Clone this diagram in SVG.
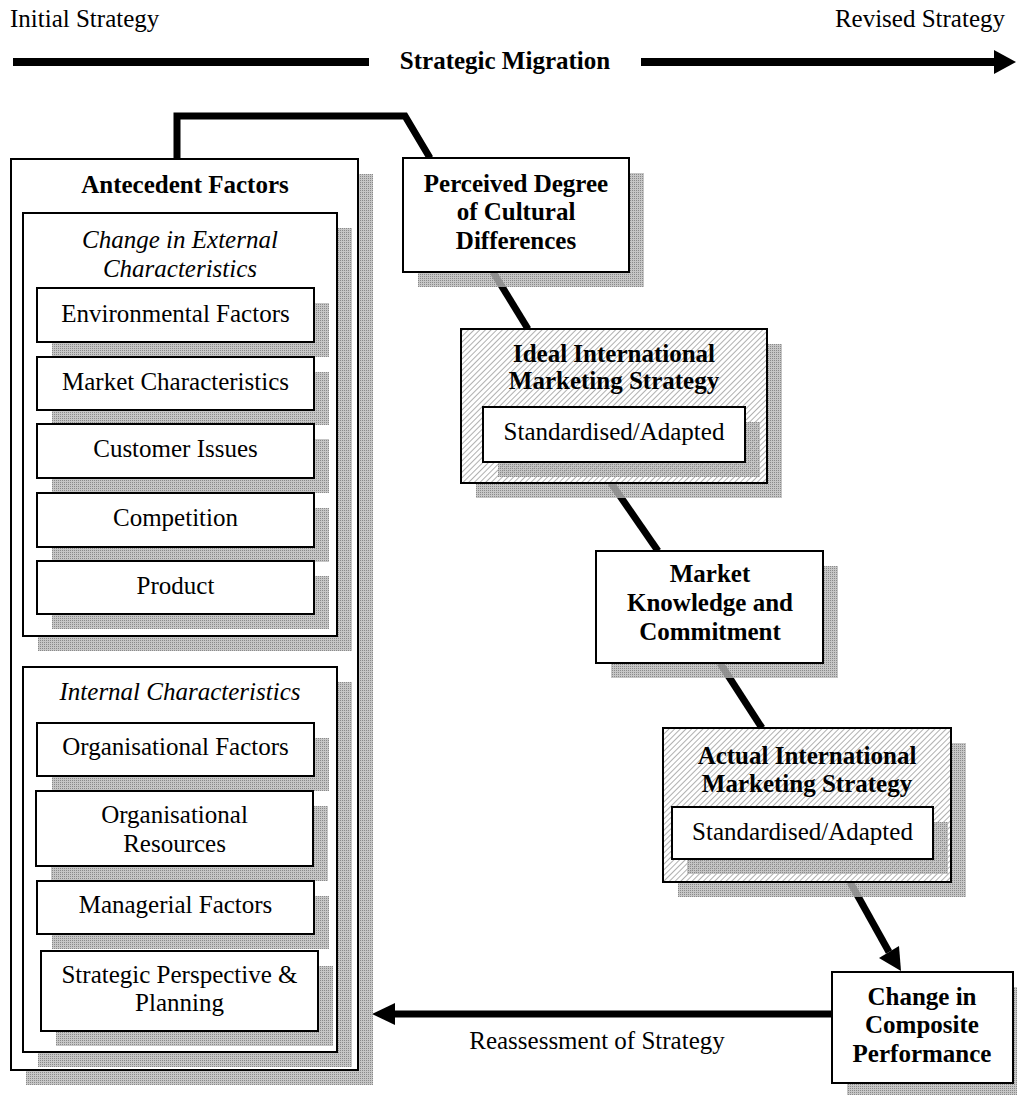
<svg xmlns="http://www.w3.org/2000/svg" width="1017" height="1095" viewBox="0 0 1017 1095">
  <defs>
    <!-- fine grey mesh used for drop shadows (lets lines beneath show through) -->
    <pattern id="mesh" width="2" height="2" patternUnits="userSpaceOnUse">
      <rect width="2" height="2" fill="#b8b8b8" fill-opacity="0.8"/>
      <rect width="1" height="1" fill="#8a8a8a"/>
    </pattern>
    <!-- light diagonal hatching for the strategy boxes -->
    <pattern id="hatch" width="4" height="4" patternUnits="userSpaceOnUse" patternTransform="rotate(45)">
      <rect width="4" height="4" fill="#ffffff"/>
      <line x1="0.5" y1="0" x2="0.5" y2="4" stroke="#b0b0b0" stroke-width="1"/>
    </pattern>
    <style>
      .box { fill: #ffffff; stroke: #000000; stroke-width: 2; }
      .hbox { fill: url(#hatch); stroke: #000000; stroke-width: 2; }
      .shadow { fill: url(#mesh); }
      .t { font-family: "Liberation Serif", "Times New Roman", serif; font-size: 25px; fill: #000000; text-anchor: middle; }
      .b { font-weight: bold; }
      .i { font-style: italic; }
      .link { fill: none; stroke: #000000; stroke-width: 7; stroke-linejoin: miter; }
      .head { fill: #000000; }
    </style>
  </defs>

  <rect width="1017" height="1095" fill="#ffffff"/>

  <!-- strategic migration timeline -->
  <g id="migration">
    <text class="t" x="10" y="27" style="text-anchor:start">Initial Strategy</text>
    <text class="t" x="1005" y="27" style="text-anchor:end">Revised Strategy</text>
    <line x1="13" y1="62" x2="369" y2="62" stroke="#000" stroke-width="8"/>
    <text class="t b" x="505" y="69">Strategic Migration</text>
    <line x1="641" y1="62" x2="996" y2="62" stroke="#000" stroke-width="8"/>
    <polygon class="head" points="994,50 1016,62 994,74"/>
  </g>

  <!-- connectors between the stages -->
  <g id="connectors">
    <path class="link" d="M177,160 V116 H405 L430,158"/>
    <line class="link" x1="493" y1="272" x2="528" y2="329"/>
    <line class="link" x1="611" y1="483" x2="658" y2="551"/>
    <line class="link" x1="720" y1="663" x2="762" y2="728"/>
    <line class="link" x1="850" y1="882" x2="889" y2="952"/>
    <polygon class="head" points="899,946 901,971 879,958"/>
    <line class="link" x1="832" y1="1014" x2="393" y2="1014" stroke-width="6"/>
    <polygon class="head" points="395,1003 372,1014 395,1025"/>
    <text class="t" x="597" y="1049">Reassessment of Strategy</text>
  </g>

  <!-- antecedent factors -->
  <g id="antecedent">
    <rect class="shadow" x="26" y="174" width="347" height="911"/>
    <rect class="box" x="11" y="159" width="347" height="911"/>
    <text class="t b" x="185" y="193">Antecedent Factors</text>

    <g id="external">
      <rect class="shadow" x="38" y="228" width="314" height="423"/>
      <rect class="box" x="23" y="213" width="314" height="423"/>
      <text class="t i" x="180" y="248">Change in External</text>
      <text class="t i" x="180" y="277">Characteristics</text>

      <g id="environmental">
        <rect class="shadow" x="52" y="303" width="277" height="54"/>
        <rect class="box" x="37" y="288" width="277" height="54"/>
        <text class="t" x="175.5" y="322">Environmental Factors</text>
      </g>
      <g id="market-characteristics">
        <rect class="shadow" x="52" y="372" width="277" height="53"/>
        <rect class="box" x="37" y="357" width="277" height="53"/>
        <text class="t" x="175.5" y="390">Market Characteristics</text>
      </g>
      <g id="customer">
        <rect class="shadow" x="52" y="439" width="277" height="54"/>
        <rect class="box" x="37" y="424" width="277" height="54"/>
        <text class="t" x="175.5" y="457">Customer Issues</text>
      </g>
      <g id="competition">
        <rect class="shadow" x="52" y="508" width="277" height="54"/>
        <rect class="box" x="37" y="493" width="277" height="54"/>
        <text class="t" x="175.5" y="526">Competition</text>
      </g>
      <g id="product">
        <rect class="shadow" x="52" y="576" width="277" height="53"/>
        <rect class="box" x="37" y="561" width="277" height="53"/>
        <text class="t" x="175.5" y="594">Product</text>
      </g>
    </g>

    <g id="internal">
      <rect class="shadow" x="38" y="682" width="314" height="385"/>
      <rect class="box" x="23" y="667" width="314" height="385"/>
      <text class="t i" x="180" y="700">Internal Characteristics</text>

      <g id="org-factors">
        <rect class="shadow" x="52" y="738" width="277" height="53"/>
        <rect class="box" x="37" y="723" width="277" height="53"/>
        <text class="t" x="175.5" y="755">Organisational Factors</text>
      </g>
      <g id="org-resources">
        <rect class="shadow" x="51" y="806" width="277" height="75"/>
        <rect class="box" x="36" y="791" width="277" height="75"/>
        <text class="t" x="174.5" y="823">Organisational</text>
        <text class="t" x="174.5" y="852">Resources</text>
      </g>
      <g id="managerial">
        <rect class="shadow" x="52" y="896" width="277" height="53"/>
        <rect class="box" x="37" y="881" width="277" height="53"/>
        <text class="t" x="175.5" y="913">Managerial Factors</text>
      </g>
      <g id="strategic-perspective">
        <rect class="shadow" x="56" y="966" width="277" height="80"/>
        <rect class="box" x="41" y="951" width="277" height="80"/>
        <text class="t" x="179.5" y="983">Strategic Perspective &amp;</text>
        <text class="t" x="179.5" y="1011">Planning</text>
      </g>
    </g>
  </g>

  <!-- perceived cultural differences -->
  <g id="perceived">
    <rect class="shadow" x="418" y="173" width="226" height="114"/>
    <rect class="box" x="403" y="158" width="226" height="114"/>
    <text class="t b" x="516" y="192">Perceived Degree</text>
    <text class="t b" x="516" y="220">of Cultural</text>
    <text class="t b" x="516" y="249">Differences</text>
  </g>

  <!-- ideal strategy -->
  <g id="ideal">
    <rect class="shadow" x="476" y="344" width="306" height="154"/>
    <rect class="hbox" x="461" y="329" width="306" height="154"/>
    <text class="t b" x="614" y="362">Ideal International</text>
    <text class="t b" x="614" y="389">Marketing Strategy</text>
    <rect class="shadow" x="498" y="422" width="262" height="55"/>
    <rect class="box" x="483" y="407" width="262" height="55"/>
    <text class="t" x="614" y="440">Standardised/Adapted</text>
  </g>

  <!-- market knowledge -->
  <g id="market-knowledge">
    <rect class="shadow" x="611" y="566" width="227" height="112"/>
    <rect class="box" x="596" y="551" width="227" height="112"/>
    <text class="t b" x="710" y="582">Market</text>
    <text class="t b" x="710" y="611">Knowledge and</text>
    <text class="t b" x="710" y="640">Commitment</text>
  </g>

  <!-- actual strategy -->
  <g id="actual">
    <rect class="shadow" x="678" y="743" width="288" height="154"/>
    <rect class="hbox" x="663" y="728" width="288" height="154"/>
    <text class="t b" x="807" y="764">Actual International</text>
    <text class="t b" x="807" y="792">Marketing Strategy</text>
    <rect class="shadow" x="687" y="822" width="261" height="52"/>
    <rect class="box" x="672" y="807" width="261" height="52"/>
    <text class="t" x="802.5" y="840">Standardised/Adapted</text>
  </g>

  <!-- composite performance -->
  <g id="performance">
    <rect class="shadow" x="847" y="987" width="181" height="111"/>
    <rect class="box" x="832" y="972" width="181" height="111"/>
    <text class="t b" x="922" y="1005">Change in</text>
    <text class="t b" x="922" y="1033">Composite</text>
    <text class="t b" x="922" y="1062">Performance</text>
  </g>
</svg>
